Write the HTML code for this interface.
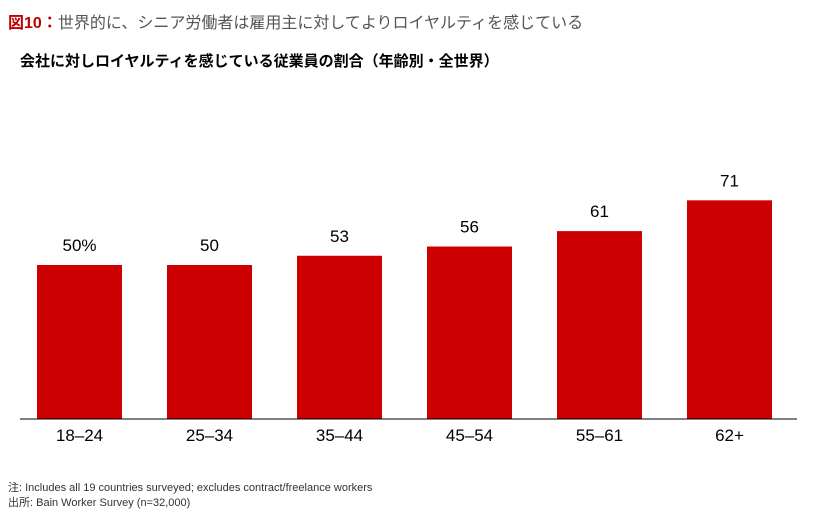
<!DOCTYPE html>
<html><head><meta charset="utf-8"><style>
body{margin:0;background:#fff;width:816px;height:527px;overflow:hidden;font-family:"Liberation Sans","Noto Sans CJK JP",sans-serif;}
</style></head><body>
<svg width="816" height="527" xmlns="http://www.w3.org/2000/svg">
<text x="8" y="28" font-size="16" fill="#555"><tspan fill="#c00000" font-weight="bold">図10：</tspan>世界的に、シニア労働者は雇用主に対してよりロイヤルティを感じている</text>
<text x="20" y="66" font-size="15" font-weight="bold" fill="#000">会社に対しロイヤルティを感じている従業員の割合（年齢別・全世界）</text>
<g id="bars"></g>
<line x1="20" y1="419" x2="797" y2="419" stroke="#000" stroke-width="1"/>
<text x="8" y="491" font-size="11" fill="#333">注: Includes all 19 countries surveyed; excludes contract/freelance workers</text>
<text x="8" y="506" font-size="11" fill="#333">出所: Bain Worker Survey (n=32,000)</text>
</svg>
<script>
const categories=["18–24","25–34","35–44","45–54","55–61","62+"];
const values=[50,50,53,56,61,71];
const valueLabels=["50%","50","53","56","61","71"];
const g=document.getElementById('bars');
const ns="http://www.w3.org/2000/svg";
const base=419, scale=3.08, x0=37, step=130, bw=85;
function xPos(i){return x0+i*step;}
function yPos(v){return base-v*scale;}
categories.forEach((c,i)=>{
  const r=document.createElementNS(ns,'rect');
  r.setAttribute('x',xPos(i));r.setAttribute('y',yPos(values[i]));
  r.setAttribute('width',bw);r.setAttribute('height',base-yPos(values[i]));
  r.setAttribute('fill','#cc0000');
  
  
  g.appendChild(r);
  const t=document.createElementNS(ns,'text');
  t.setAttribute('x',xPos(i)+bw/2);t.setAttribute('y',yPos(values[i])-14);
  t.setAttribute('text-anchor','middle');t.setAttribute('font-size','17');
  t.textContent=valueLabels[i];
  
  
  g.appendChild(t);
  const l=document.createElementNS(ns,'text');
  l.setAttribute('x',xPos(i)+bw/2);l.setAttribute('y',441);
  l.setAttribute('text-anchor','middle');l.setAttribute('font-size','17');
  l.textContent=c;
  
  
  g.appendChild(l);
});
</script>
</body></html>
